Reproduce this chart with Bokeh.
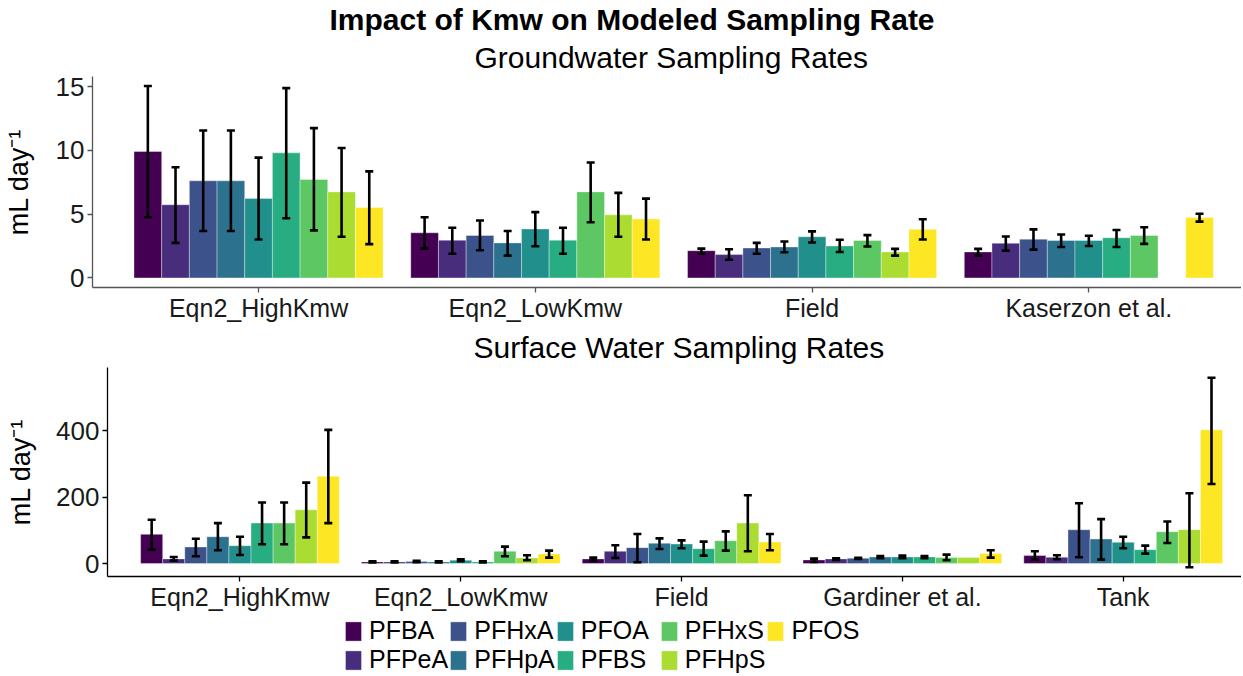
import math
from bokeh.plotting import figure
from bokeh.models import (ColumnDataSource, Whisker, TeeHead, FixedTicker, Range1d,
                          Title, Legend, LegendItem)
from bokeh.layouts import column
from bokeh.embed import file_html
from bokeh.resources import INLINE

nan = float("nan")
FONT = "Liberation Sans"

compounds = ["PFBA", "PFPeA", "PFHxA", "PFHpA", "PFOA", "PFBS", "PFHxS", "PFHpS", "PFOS"]
colors = ["#440154", "#472D7B", "#3B528B", "#2C728E", "#21908C",
          "#27AD81", "#5DC863", "#AADC32", "#FDE725"]

# ---------------- Groundwater ----------------
gw_categories = ["Eqn2_HighKmw", "Eqn2_LowKmw", "Field", "Kaserzon et al."]
gw_mean = [
    [9.92, 5.74, 7.62, 7.62, 6.24, 9.81, 7.72, 6.75, 5.53],
    [3.54, 2.96, 3.33, 2.75, 3.84, 2.96, 6.75, 4.95, 4.63],
    [2.14, 1.83, 2.35, 2.43, 3.23, 2.51, 2.94, 2.04, 3.81],
    [2.04, 2.72, 3.04, 2.94, 2.94, 3.15, 3.33, nan, 4.74],
]
gw_lower = [
    [4.76, 2.75, 3.68, 3.68, 3.02, 4.68, 3.73, 3.23, 2.65],
    [2.30, 1.90, 2.17, 1.75, 2.49, 1.90, 4.37, 3.23, 3.02],
    [1.90, 1.43, 1.90, 2.01, 2.78, 2.04, 2.46, 1.75, 3.02],
    [1.75, 2.14, 2.22, 2.43, 2.51, 2.43, 2.67, nan, 4.42],
]
gw_upper = [
    [15.05, 8.68, 11.56, 11.56, 9.44, 14.89, 11.75, 10.19, 8.36],
    [4.76, 3.94, 4.50, 3.68, 5.16, 3.94, 9.05, 6.67, 6.22],
    [2.30, 2.25, 2.75, 2.86, 3.65, 2.99, 3.36, 2.28, 4.60],
    [2.28, 3.25, 3.81, 3.41, 3.31, 3.76, 3.97, nan, 5.03],
]
gw_ticks = [0, 5, 10, 15]

# ---------------- Surface water ----------------
sw_categories = ["Eqn2_HighKmw", "Eqn2_LowKmw", "Field", "Gardiner et al.", "Tank"]
sw_mean = [
    [88, 14, 50, 81, 54, 122, 122, 162, 263],
    [5, 5, 6, 5, 10, 5, 37, 17, 29],
    [14, 37, 48, 61, 59, 45, 69, 122, 65],
    [11, 14, 16, 20, 20, 20, 18, 18, 30],
    [24, 19, 102, 74, 64, 42, 96, 102, 403],
]
sw_lower = [
    [42, 9, 22, 40, 26, 58, 58, 79, 122],
    [3, 3, 4, 3, 7, 3, 22, 10, 18],
    [9, 17, 4, 44, 46, 24, 39, 37, 40],
    [5, 11, 14, 16, 16, 16, 10, nan, 18],
    [12, 13, 19, 12, 46, 30, 62, -11, 240],
]
sw_upper = [
    [132, 20, 75, 122, 81, 184, 184, 244, 403],
    [7, 7, 8, 7, 13, 7, 51, 25, 39],
    [18, 55, 89, 76, 70, 66, 97, 206, 89],
    [15, 16, 17, 23, 24, 23, 27, nan, 40],
    [37, 25, 182, 134, 81, 54, 127, 212, 560],
]
sw_ticks = [0, 200, 400]

DODGE = 0.1
W = 1241


def bar_sources(cats, mean, lower, upper, j):
    xs, tops, wx, wl, wu = [], [], [], [], []
    for i in range(len(cats)):
        x = i + 1 + (j - 4) * DODGE
        if not math.isnan(mean[i][j]):
            xs.append(x)
            tops.append(mean[i][j])
        if not math.isnan(lower[i][j]):
            wx.append(x)
            wl.append(lower[i][j])
            wu.append(upper[i][j])
    return (ColumnDataSource(dict(x=xs, top=tops)),
            ColumnDataSource(dict(x=wx, lower=wl, upper=wu)))


def panel(cats, mean, lower, upper, yticks, y_start, y_end, x_end, height,
          border_left, label_standoff, axis_color):
    p = figure(width=W, height=height, output_backend="svg", toolbar_location=None,
               title=None, x_range=Range1d(0.4, x_end), y_range=Range1d(y_start, y_end),
               min_border_left=border_left, min_border_right=0, min_border_top=0,
               min_border_bottom=0, frame_align=False)
    for j in range(len(compounds)):
        src, wsrc = bar_sources(cats, mean, lower, upper, j)
        p.vbar(x="x", top="top", bottom=0, width=DODGE, source=src,
               fill_color=colors[j], line_color="white", line_alpha=0.45, line_width=0.8)
        p.add_layout(Whisker(source=wsrc, base="x", lower="lower", upper="upper",
                             dimension="height", line_color="black", line_width=2.6,
                             level="annotation",
                             upper_head=TeeHead(size=8, line_width=2.6, line_color="black"),
                             lower_head=TeeHead(size=8, line_width=2.6, line_color="black")))
    p.xgrid.visible = False
    p.ygrid.visible = False
    p.outline_line_color = None
    p.background_fill_color = "white"
    p.border_fill_color = "white"

    p.xaxis.ticker = FixedTicker(ticks=list(range(1, len(cats) + 1)))
    p.xaxis.major_label_overrides = {i + 1: c for i, c in enumerate(cats)}
    p.yaxis.ticker = FixedTicker(ticks=yticks)
    for ax in (p.xaxis[0], p.yaxis[0]):
        ax.axis_line_color = axis_color
        ax.axis_line_width = 1.3
        ax.major_tick_line_color = axis_color
        ax.major_tick_line_width = 1.3
        ax.major_tick_in = 0
        ax.major_tick_out = 5
        ax.minor_tick_line_color = None
        ax.major_label_text_font = FONT
        ax.major_label_text_color = "#1a1a1a"
    p.xaxis.major_label_text_font_size = "25px"
    p.yaxis.major_label_text_font_size = "26px"
    p.xaxis.major_label_standoff = 1
    p.yaxis.major_label_standoff = 3
    p.yaxis.axis_label = "mL day\u207b\u00b9"
    p.yaxis.axis_label_text_font = FONT
    p.yaxis.axis_label_text_font_size = "27px"
    p.yaxis.axis_label_text_font_style = "normal"
    p.yaxis.axis_label_text_color = "black"
    p.yaxis.axis_label_standoff = label_standoff
    return p


# Groundwater panel (x scale: 277 px per category)
p1 = panel(gw_categories, gw_mean, gw_lower, gw_upper, gw_ticks, -0.75, 15.8,
           0.4 + (W - 91) / 277.0, 324, 91, 19, "#555555")
p1.add_layout(Title(text="Groundwater Sampling Rates", align="left", offset=382,
                    text_font=FONT, text_font_size="30px", text_font_style="normal",
                    text_color="black", standoff=6), "above")
p1.add_layout(Title(text="Impact of Kmw on Modeled Sampling Rate", align="left", offset=237,
                    text_font=FONT, text_font_size="30px", text_font_style="bold",
                    text_color="black", standoff=0), "above")

# Surface water panel (x scale: 220.8 px per category)
p2 = panel(sw_categories, sw_mean, sw_lower, sw_upper, sw_ticks, -39, 591,
           0.4 + (W - 107) / 220.8, 289, 107, 17, "black")
p2.add_layout(Title(text="Surface Water Sampling Rates", align="left", offset=366,
                    text_font=FONT, text_font_size="30px", text_font_style="normal",
                    text_color="black", standoff=8), "above")

# Legend strip: bar renderers share the surface-water data but lie outside this strip's range
p3 = figure(width=W, height=61, output_backend="svg", toolbar_location=None, title=None,
            x_range=Range1d(-2000, -1000), y_range=Range1d(-2000, -1000), min_border=0,
            frame_align=False)
p3.xaxis.visible = False
p3.yaxis.visible = False
p3.xgrid.visible = False
p3.ygrid.visible = False
p3.outline_line_color = None
items = []
for j, comp in enumerate(compounds):
    src, _ = bar_sources(sw_categories, sw_mean, sw_lower, sw_upper, j)
    r = p3.vbar(x="x", top="top", bottom=0, width=DODGE, source=src,
                fill_color=colors[j], line_color="white", line_alpha=0.45, line_width=0.8)
    items.append(LegendItem(label=comp, renderers=[r]))
legend = Legend(items=items, orientation="vertical", nrows=2, location=(343, 0),
                label_text_font=FONT, label_text_font_size="25px", label_text_color="black",
                glyph_width=20, glyph_height=24, label_standoff=6, label_width=78,
                spacing=0, padding=0, margin=0, border_line_color=None,
                background_fill_alpha=0)
p3.add_layout(legend, "center")

layout = column(p1, p2, p3, spacing=0)
open("out.html", "w").write(file_html(layout, INLINE))
